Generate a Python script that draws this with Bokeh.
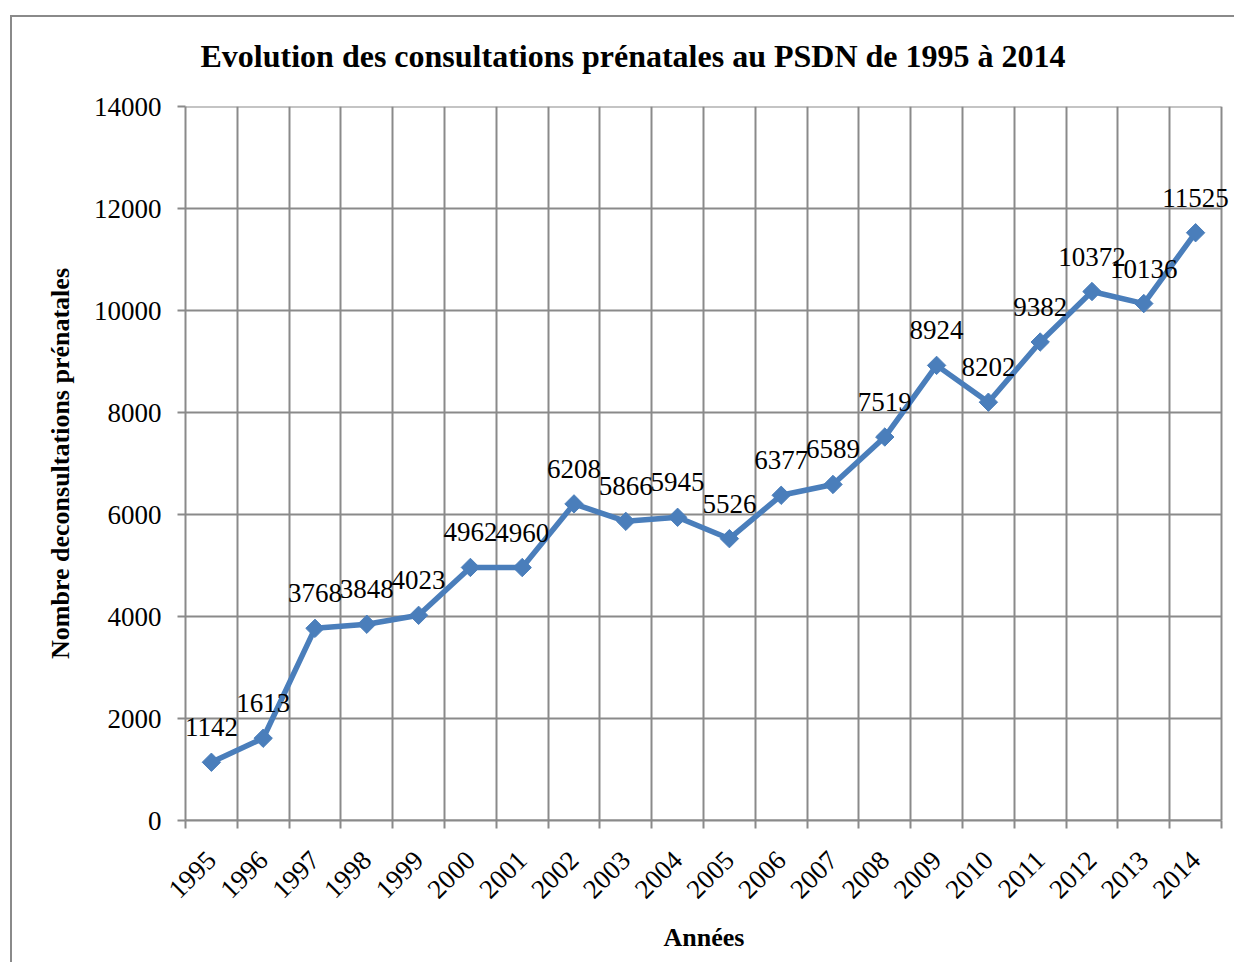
import math
from bokeh.plotting import figure
from bokeh.models import (Range1d, FixedTicker, ColumnDataSource, LabelSet,
                          PrintfTickFormatter, Title)
from bokeh.embed import file_html
from bokeh.resources import INLINE

years = ["1995", "1996", "1997", "1998", "1999", "2000", "2001", "2002", "2003", "2004",
         "2005", "2006", "2007", "2008", "2009", "2010", "2011", "2012", "2013", "2014"]
consultations = [1142, 1613, 3768, 3848, 4023, 4962, 4960, 6208, 5866, 5945,
                 5526, 6377, 6589, 7519, 8924, 8202, 9382, 10372, 10136, 11525]
y_ticks = [0, 2000, 4000, 6000, 8000, 10000, 12000, 14000]

FONT = "Liberation Serif"
BLUE = "#4a7ebb"
GRAY = "#8a8a8a"

W, H = 1234, 962
LEFT, RIGHT, TOP, BOTTOM = 185, 4, 106, 142
AXIS_PX = 1036  # pixel length of the 20 categories

n = len(years)
xpos = [i + 0.5 for i in range(n)]
src = ColumnDataSource(dict(x=xpos, y=consultations,
                            lbl=[str(v) for v in consultations]))

x_end = n * (W - LEFT - RIGHT) / AXIS_PX  # a little room so the last label is not cut

p = figure(width=W, height=H, output_backend="svg", toolbar_location=None,
           x_range=Range1d(0, x_end), y_range=Range1d(0, 14000),
           min_border_left=LEFT, min_border_right=RIGHT, min_border_top=TOP,
           min_border_bottom=BOTTOM)

p.title.text = "Evolution des consultations prénatales au PSDN de 1995 à 2014"
p.title.text_font = FONT
p.title.text_font_size = "32px"
p.title.text_font_style = "bold"
p.title.text_color = "black"
p.title.align = "left"
p.title.offset = 15
p.title.standoff = 65

p.outline_line_color = None
p.background_fill_color = "white"
p.border_fill_color = None
# outer chart border (left and top edges visible in the window)
p.styles = {
    "background": ("linear-gradient(#8a8a8a,#8a8a8a) 10px 15px / 2px 100% no-repeat, "
                   "linear-gradient(#8a8a8a,#8a8a8a) 10px 15px / 100% 2px no-repeat, white"),
}

# x axis
xa = p.xaxis[0]
xa.bounds = (0, n)
xa.ticker = FixedTicker(ticks=xpos, minor_ticks=list(range(n + 1)))
xa.major_label_overrides = {x: y for x, y in zip(xpos, years)}
xa.major_label_orientation = math.pi / 4
xa.major_tick_in = 0
xa.major_tick_out = 0
xa.minor_tick_in = 0
xa.minor_tick_out = 8
xa.minor_tick_line_color = GRAY
xa.minor_tick_line_width = 2
xa.axis_line_color = GRAY
xa.axis_line_width = 2
xa.major_label_text_font = FONT
xa.major_label_text_font_size = "27px"
xa.major_label_text_color = "black"
xa.major_label_standoff = 27

# x axis title, centred under the category span
x_title = Title(text="Années", text_font=FONT, text_font_size="26px",
                text_font_style="bold", text_color="black",
                align="left", offset=478, standoff=22)
p.add_layout(x_title, "below")

# y axis
ya = p.yaxis[0]
ya.ticker = FixedTicker(ticks=y_ticks, minor_ticks=[])
ya.formatter = PrintfTickFormatter(format="%d")
ya.major_tick_in = 0
ya.major_tick_out = 8
ya.major_tick_line_color = GRAY
ya.major_tick_line_width = 2
ya.minor_tick_line_color = None
ya.axis_line_color = GRAY
ya.axis_line_width = 2
ya.major_label_text_font = FONT
ya.major_label_text_font_size = "27px"
ya.major_label_text_color = "black"
ya.major_label_standoff = 16
ya.axis_label = "Nombre deconsultations prénatales"
ya.axis_label_text_font = FONT
ya.axis_label_text_font_size = "26px"
ya.axis_label_text_font_style = "bold"
ya.axis_label_text_color = "black"
ya.axis_label_standoff = 16

# grids: vertical at category boundaries, horizontal limited to the category span
p.xgrid.ticker = FixedTicker(ticks=list(range(n + 1)))
p.xgrid.grid_line_color = GRAY
p.xgrid.grid_line_width = 2
p.ygrid.visible = False
p.segment(x0=[0] * len(y_ticks), x1=[n] * len(y_ticks), y0=y_ticks, y1=y_ticks,
          line_color=GRAY, line_width=2)

p.line("x", "y", source=src, line_color=BLUE, line_width=5.5)
p.scatter("x", "y", source=src, marker="square", size=13, angle=math.pi / 4,
          fill_color=BLUE, line_color=BLUE)

labels = LabelSet(x="x", y="y", text="lbl", source=src, text_align="center",
                  text_baseline="alphabetic", y_offset=26,
                  text_font=FONT, text_font_size="27px", text_color="black")
p.add_layout(labels)

open("out.html", "w").write(file_html(p, INLINE))
